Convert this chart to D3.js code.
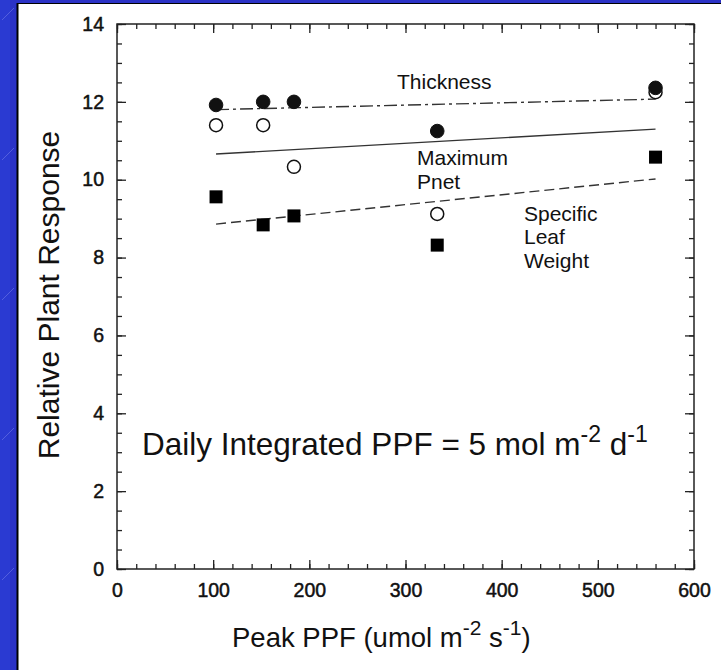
<!DOCTYPE html>
<html><head><meta charset="utf-8">
<script src="https://cdn.jsdelivr.net/npm/d3@7"></script>
<style>
html,body{margin:0;padding:0;background:#2b32c6;}
svg{display:block;}
text{font-family:"Liberation Sans",Arial,Helvetica,sans-serif;fill:#111;}
</style></head>
<body>
<svg id="chart" width="721" height="670"></svg>
<script>
// ---- data ----
const peakPPF = [103, 152, 184, 333, 560];
const thickness = [11.92, 12.0, 12.0, 11.25, 12.36];
const maxPnet = [11.4, 11.4, 10.33, 9.12, 12.25];
const specificLeafWeight = [9.56, 8.84, 9.07, 8.32, 10.58];
// regression lines: [x start, x end], [y start, y end]
const fitX = [103, 560];
const thicknessFit = [11.8, 12.07];
const pnetFit = [10.66, 11.3];
const slwFit = [8.86, 10.02];
const xTicks = [0, 100, 200, 300, 400, 500, 600];
const yTicks = [0, 2, 4, 6, 8, 10, 12, 14];

(function(){
const svg = d3.select("#chart");
// background slide
svg.append("rect").attr("x",0).attr("y",0).attr("width",721).attr("height",670).attr("fill","#2b32c6");
svg.append("rect").attr("x",0).attr("y",0).attr("width",10).attr("height",670).attr("fill","#2a3ad2");
// faint diagonal decorations
[[2,20,14,8],[2,160,14,148],[2,300,14,288],[2,440,14,428],[2,580,14,568]].forEach(d=>{
  svg.append("line").attr("x1",d[0]).attr("y1",d[1]).attr("x2",d[2]).attr("y2",d[3])
    .attr("stroke","#6f78e6").attr("stroke-width",1).attr("opacity",0.6);
});
// white panel
svg.append("rect").attr("x",17).attr("y",3).attr("width",710).attr("height",670).attr("fill","#ffffff");
svg.append("line").attr("x1",17.5).attr("y1",3).attr("x2",17.5).attr("y2",670).attr("stroke","#000").attr("stroke-width",2);
svg.append("line").attr("x1",17).attr("y1",3.5).attr("x2",721).attr("y2",3.5).attr("stroke","#000").attr("stroke-width",1);

const pL = 117, pR = 694, pT = 24, pB = 569;
const x = d3.scaleLinear().domain([0,600]).range([pL,pR]);
const y = d3.scaleLinear().domain([0,14]).range([pB,pT]);

const g = svg.append("g");

function styleAxis(sel, fontSize){
  sel.select(".domain").remove();
  sel.selectAll(".tick line").attr("stroke","#222").attr("stroke-width",1.3);
  sel.selectAll("text").attr("font-size",fontSize).attr("fill","#111")
    .attr("stroke","#111").attr("stroke-width",0.5)
    .attr("font-family","'Liberation Sans',Arial,sans-serif");
}
const xMinor = d3.range(0,601,20);
const yMinor = d3.range(0,14.01,0.5);

// bottom
g.append("g").attr("transform",`translate(0,${pB})`)
  .call(d3.axisBottom(x).tickValues(xMinor).tickSize(-5).tickFormat(""))
  .call(s=>styleAxis(s,19));
g.append("g").attr("transform",`translate(0,${pB})`)
  .call(d3.axisBottom(x).tickValues(xTicks).tickSize(-9).tickPadding(14).tickFormat(d3.format("d")))
  .call(s=>styleAxis(s,19.5));
// top
g.append("g").attr("transform",`translate(0,${pT})`)
  .call(d3.axisTop(x).tickValues(xMinor).tickSize(-5).tickFormat(""))
  .call(s=>styleAxis(s,19));
g.append("g").attr("transform",`translate(0,${pT})`)
  .call(d3.axisTop(x).tickValues(xTicks).tickSize(-9).tickFormat(""))
  .call(s=>styleAxis(s,19));
// left
g.append("g").attr("transform",`translate(${pL},0)`)
  .call(d3.axisLeft(y).tickValues(yMinor).tickSize(-5).tickFormat(""))
  .call(s=>styleAxis(s,19));
g.append("g").attr("transform",`translate(${pL},0)`)
  .call(d3.axisLeft(y).tickValues(yTicks).tickSize(-9).tickPadding(13).tickFormat(d3.format("d")))
  .call(s=>styleAxis(s,19.5));
// right
g.append("g").attr("transform",`translate(${pR},0)`)
  .call(d3.axisRight(y).tickValues(yMinor).tickSize(-5).tickFormat(""))
  .call(s=>styleAxis(s,19));
g.append("g").attr("transform",`translate(${pR},0)`)
  .call(d3.axisRight(y).tickValues(yTicks).tickSize(-9).tickFormat(""))
  .call(s=>styleAxis(s,19));

// frame
g.append("rect").attr("x",pL).attr("y",pT).attr("width",pR-pL).attr("height",pB-pT)
  .attr("fill","none").attr("stroke","#222").attr("stroke-width",1.5);

// fit lines
const line = d3.line().x(d=>x(d[0])).y(d=>y(d[1]));
const fits = [
  {vals: thicknessFit, dash: "13,4,3,4"},
  {vals: pnetFit, dash: null},
  {vals: slwFit, dash: "10,5"}
];
fits.forEach(f=>{
  g.append("path").datum(fitX.map((xv,i)=>[xv,f.vals[i]]))
    .attr("d",line).attr("fill","none").attr("stroke","#333").attr("stroke-width",1.4)
    .attr("stroke-dasharray",f.dash);
});

// markers
const pts = v => peakPPF.map((xv,i)=>[xv,v[i]]);
g.selectAll(".open").data(pts(maxPnet)).enter().append("circle")
  .attr("cx",d=>x(d[0])).attr("cy",d=>y(d[1])).attr("r",6.5)
  .attr("fill","#fff").attr("stroke","#111").attr("stroke-width",1.5);
g.selectAll(".filled").data(pts(thickness)).enter().append("circle")
  .attr("cx",d=>x(d[0])).attr("cy",d=>y(d[1])).attr("r",6.8)
  .attr("fill","#111").attr("stroke","#111").attr("stroke-width",1);
g.selectAll(".sq").data(pts(specificLeafWeight)).enter().append("rect")
  .attr("x",d=>x(d[0])-6.5).attr("y",d=>y(d[1])-6.5).attr("width",13).attr("height",13)
  .attr("fill","#000");

// annotations
function label(txt,xx,yy,fs){
  g.append("text").attr("x",xx).attr("y",yy).attr("font-size",fs).text(txt);
}
label("Thickness",397,89,21);
label("Maximum",417,165,21);
label("Pnet",417,189,21);
label("Specific",524,221,21);
label("Leaf",524,244,21);
label("Weight",524,268,21);

// Daily integrated text with superscripts
const dt = g.append("text").attr("x",142).attr("y",455).attr("font-size",31.5);
dt.append("tspan").text("Daily Integrated PPF = 5 mol m");
dt.append("tspan").attr("dy",-13).attr("font-size",23).text("-2");
dt.append("tspan").attr("dy",13).text(" d");
dt.append("tspan").attr("dy",-13).attr("font-size",23).text("-1");

// axis titles
const xt = svg.append("text").attr("x",232).attr("y",647).attr("font-size",27.5);
xt.append("tspan").text("Peak PPF (umol m");
xt.append("tspan").attr("dy",-12).attr("font-size",21).text("-2");
xt.append("tspan").attr("dy",12).text(" s");
xt.append("tspan").attr("dy",-12).attr("font-size",21).text("-1");
xt.append("tspan").attr("dy",12).text(")");

svg.append("text").attr("transform","translate(59,295) rotate(-90)")
  .attr("text-anchor","middle").attr("font-size",30).text("Relative Plant Response");
})();
</script>
</body></html>
